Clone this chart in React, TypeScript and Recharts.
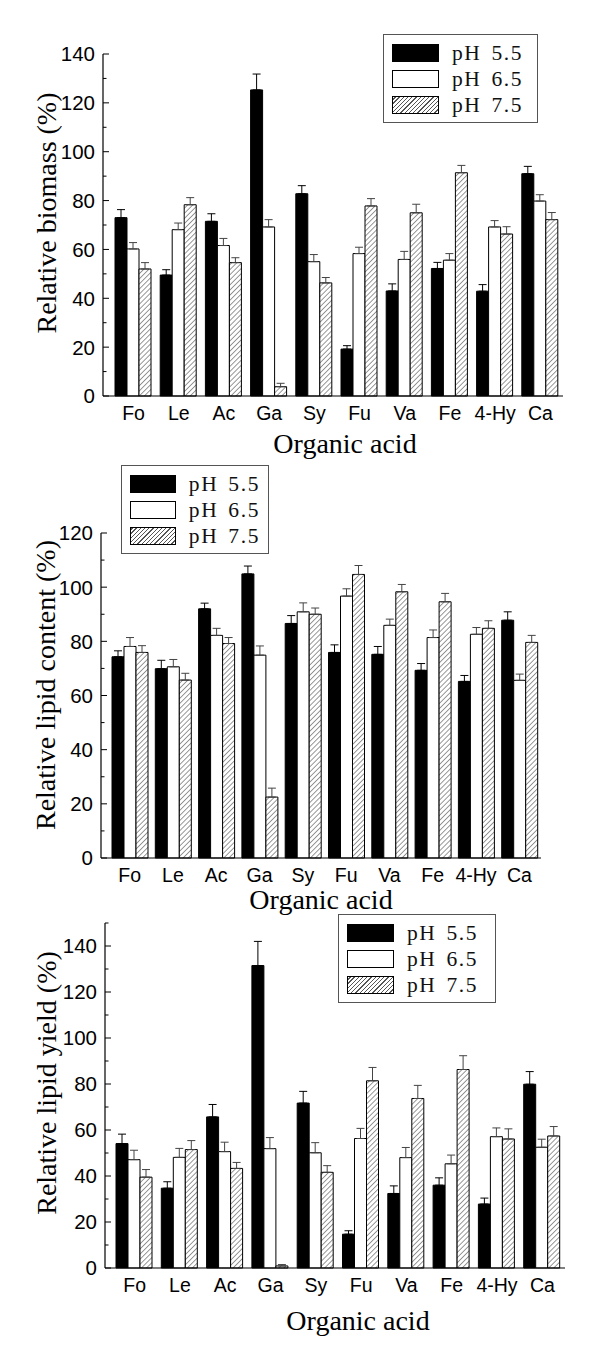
import { BarChart, Bar, XAxis, YAxis, ErrorBar, Legend, Label } from 'recharts';

const ACIDS = ['Fo', 'Le', 'Ac', 'Ga', 'Sy', 'Fu', 'Va', 'Fe', '4-Hy', 'Ca'];

// relative biomass (%)
const BIOMASS_PH55 = [73, 49.5, 71.5, 125.3, 82.8, 19.2, 43, 52.2, 42.9, 91];
const BIOMASS_PH65 = [60.2, 68.1, 61.6, 69.2, 55, 58.3, 55.9, 55.6, 69.2, 79.8];
const BIOMASS_PH75 = [52, 78.3, 54.6, 3.8, 46.3, 77.8, 75, 91.4, 66.3, 72.2];
const BIOMASS_ERR55 = [3.3, 2.2, 3.1, 6.5, 3.3, 1.4, 2.9, 2.5, 2.7, 3.0];
const BIOMASS_ERR65 = [2.6, 2.7, 2.9, 3.0, 2.9, 2.6, 3.3, 2.7, 2.6, 2.6];
const BIOMASS_ERR75 = [2.6, 2.9, 2.0, 1.4, 2.2, 3.0, 3.5, 3.0, 3.0, 2.9];

// relative lipid content (%)
const CONTENT_PH55 = [74.3, 69.9, 92, 104.9, 86.6, 75.9, 75.2, 69.3, 65.2, 87.8];
const CONTENT_PH65 = [78.1, 70.6, 82.2, 74.9, 90.9, 96.7, 85.9, 81.4, 82.6, 65.6];
const CONTENT_PH75 = [75.9, 65.7, 79.2, 22.5, 90, 104.7, 98.3, 94.6, 84.8, 79.6];
const CONTENT_ERR55 = [2.2, 3.1, 2.1, 2.9, 2.9, 2.8, 2.9, 2.5, 2.2, 3.1];
const CONTENT_ERR65 = [3.3, 2.7, 2.6, 3.4, 3.3, 2.7, 2.3, 2.8, 2.5, 2.3];
const CONTENT_ERR75 = [2.5, 2.5, 2.2, 3.3, 2.3, 3.3, 2.7, 3.1, 2.8, 2.6];

// relative lipid yield (%)
const YIELD_PH55 = [54.1, 34.7, 65.7, 131.5, 71.7, 14.7, 32.4, 36, 27.8, 79.9];
const YIELD_PH65 = [47.1, 48.1, 50.6, 51.9, 50.1, 56.3, 48, 45.3, 57.1, 52.5];
const YIELD_PH75 = [39.5, 51.5, 43.3, 0.9, 41.6, 81.4, 73.7, 86.3, 56.1, 57.4];
const YIELD_ERR55 = [4.1, 2.8, 5.4, 10.5, 5.1, 1.5, 3.3, 3.2, 2.6, 5.5];
const YIELD_ERR65 = [4.1, 3.9, 4.1, 4.8, 4.4, 4.4, 4.4, 3.8, 3.8, 3.5];
const YIELD_ERR75 = [3.3, 3.9, 2.6, 0.6, 2.9, 5.8, 5.7, 6.0, 4.4, 4.1];

const TICKS_140 = [0, 10, 20, 30, 40, 50, 60, 70, 80, 90, 100, 110, 120, 130, 140];
const TICKS_120 = [0, 10, 20, 30, 40, 50, 60, 70, 80, 90, 100, 110, 120];
const TICKS_150 = [0, 10, 20, 30, 40, 50, 60, 70, 80, 90, 100, 110, 120, 130, 140, 150];

const SERIES = [
  { key: 'ph55', name: 'pH 5.5', fill: '#000000' },
  { key: 'ph65', name: 'pH 6.5', fill: '#ffffff' },
  { key: 'ph75', name: 'pH 7.5', fill: 'url(#hatch)' },
];

const SERIF = '"Liberation Serif", "Times New Roman", serif';
const SANS = '"Liberation Sans", Arial, sans-serif';

const buildRows = (
  v55: number[], v65: number[], v75: number[],
  e55: number[], e65: number[], e75: number[],
) =>
  ACIDS.map((acid, i) => ({
    acid,
    ph55: v55[i],
    ph65: v65[i],
    ph75: v75[i],
    ph55Err: [0, e55[i]],
    ph65Err: [0, e65[i]],
    ph75Err: [0, e75[i]],
  }));

const YTick = ({ x, y, payload }: any) => {
  const major = payload.value % 20 === 0;
  return (
    <g>
      <line x1={x} x2={x + (major ? 6 : 3.5)} y1={y} y2={y} stroke="#000" strokeWidth={1} />
      {major && (
        <text x={x - 8} y={y} dy="0.36em" textAnchor="end" fontFamily={SANS} fontSize={20.5} fill="#000">
          {payload.value}
        </text>
      )}
    </g>
  );
};

const XTick = ({ x, y, payload }: any) => (
  <text x={x} y={y + 17} dy="0.36em" textAnchor="middle" fontFamily={SANS} fontSize={19.5} fill="#000">
    {payload.value}
  </text>
);

const HatchLegend = ({ width }: { width: number }) => (
  <div
    style={{
      boxSizing: 'border-box',
      width,
      border: '1px solid #555',
      background: '#fff',
      padding: '9px 8px 8px 8px',
      display: 'flex',
      flexDirection: 'column',
      gap: 8,
    }}
  >
    {SERIES.map(s => (
      <div key={s.key} style={{ display: 'flex', alignItems: 'center', height: 18 }}>
        <div
          style={{
            boxSizing: 'border-box',
            width: 47,
            height: 18,
            border: '1px solid #000',
            background:
              s.key === 'ph75'
                ? 'repeating-linear-gradient(-45deg, #fff 0px, #fff 2px, #555 2px, #555 3px)'
                : s.fill,
          }}
        />
        <span
          style={{
            marginLeft: 13,
            fontFamily: SERIF,
            fontSize: 21.5,
            letterSpacing: 1.6,
            wordSpacing: 3,
            lineHeight: '18px',
            color: '#111',
            whiteSpace: 'nowrap',
          }}
        >
          {s.name}
        </span>
      </div>
    ))}
  </div>
);

interface PanelProps {
  top: number;
  height: number;
  rows: ReturnType<typeof buildRows>;
  yMax: number;
  yTicks: number[];
  yTitle: string;
  margin: { top: number; right: number; bottom: number; left: number };
  padLeft: number;
  legend: { left: number; top: number; width: number };
  yTitleAt: { x: number; y: number };
  xTitleAt: { x: number; y: number };
}

function Panel({ top, height, rows, yMax, yTicks, yTitle, margin, padLeft, legend, yTitleAt, xTitleAt }: PanelProps) {
  return (
    <div style={{ position: 'absolute', left: 0, top, width: 600, height }}>
      <BarChart width={600} height={height} data={rows} margin={margin} barCategoryGap={4} barGap={0}>
        <XAxis
          dataKey="acid"
          height={30}
          padding={{ left: padLeft, right: 0 }}
          axisLine={{ stroke: '#000', strokeWidth: 1.2 }}
          tickLine={false}
          tickSize={0}
          tickMargin={0}
          interval={0}
          tick={<XTick />}
        >
          <Label
            content={() => (
              <text x={xTitleAt.x} y={xTitleAt.y} dy="0.35em" textAnchor="middle" fontFamily={SERIF} fontSize={28} fill="#000">
                Organic acid
              </text>
            )}
          />
        </XAxis>
        <YAxis
          width={60}
          domain={[0, yMax]}
          ticks={yTicks}
          interval={0}
          axisLine={{ stroke: '#000', strokeWidth: 1.2 }}
          tickLine={false}
          tickSize={0}
          tickMargin={0}
          tick={<YTick />}
        >
          <Label
            content={() => (
              <text
                x={yTitleAt.x}
                y={yTitleAt.y}
                dy="0.35em"
                textAnchor="middle"
                fontFamily={SERIF}
                fontSize={28}
                fill="#000"
                transform={`rotate(-90 ${yTitleAt.x} ${yTitleAt.y})`}
              >
                {yTitle}
              </text>
            )}
          />
        </YAxis>
        <Legend
          layout="vertical"
          align="center"
          verticalAlign="middle"
          wrapperStyle={{ left: legend.left, top: legend.top, width: legend.width }}
          content={() => <HatchLegend width={legend.width} />}
        />
        {SERIES.map(s => (
          <Bar key={s.key} dataKey={s.key} name={s.name} fill={s.fill} stroke="#000" strokeWidth={1} isAnimationActive={false}>
            <ErrorBar
              dataKey={`${s.key}Err`}
              direction="y"
              width={4}
              stroke={s.key === 'ph55' ? '#000' : '#444'}
              strokeWidth={1}
              isAnimationActive={false}
            />
          </Bar>
        ))}
      </BarChart>
    </div>
  );
}

export default function App() {
  const biomass = buildRows(BIOMASS_PH55, BIOMASS_PH65, BIOMASS_PH75, BIOMASS_ERR55, BIOMASS_ERR65, BIOMASS_ERR75);
  const content = buildRows(CONTENT_PH55, CONTENT_PH65, CONTENT_PH75, CONTENT_ERR55, CONTENT_ERR65, CONTENT_ERR75);
  const lipidYield = buildRows(YIELD_PH55, YIELD_PH65, YIELD_PH75, YIELD_ERR55, YIELD_ERR65, YIELD_ERR75);

  return (
    <div style={{ position: 'absolute', left: 0, top: 0, width: 600, height: 1366, background: '#fff', overflow: 'hidden' }}>
      <svg width={0} height={0} style={{ position: 'absolute' }}>
        <defs>
          <pattern id="hatch" patternUnits="userSpaceOnUse" width={3.6} height={3.6} patternTransform="rotate(45)">
            <rect width={3.6} height={3.6} fill="#fff" />
            <line x1={0} y1={0} x2={0} y2={3.6} stroke="#444" strokeWidth={1.1} />
          </pattern>
        </defs>
      </svg>
      <Panel
        top={0}
        height={460}
        rows={biomass}
        yMax={140}
        yTicks={TICKS_140}
        yTitle="Relative biomass (%)"
        margin={{ top: 54, right: 37, bottom: 34, left: 43 }}
        padLeft={8}
        legend={{ left: 383, top: 34, width: 155 }}
        yTitleAt={{ x: 46, y: 213 }}
        xTitleAt={{ x: 345, y: 443 }}
      />
      <Panel
        top={460}
        height={460}
        rows={content}
        yMax={120}
        yTicks={TICKS_120}
        yTitle="Relative lipid content (%)"
        margin={{ top: 73, right: 59, bottom: 32, left: 41 }}
        padLeft={7}
        legend={{ left: 121, top: 5, width: 148 }}
        yTitleAt={{ x: 45, y: 225 }}
        xTitleAt={{ x: 321, y: 439 }}
      />
      <Panel
        top={920}
        height={446}
        rows={lipidYield}
        yMax={150}
        yTicks={TICKS_150}
        yTitle="Relative lipid yield (%)"
        margin={{ top: 3, right: 35, bottom: 68, left: 45 }}
        padLeft={7}
        legend={{ left: 338, top: -6, width: 158 }}
        yTitleAt={{ x: 46, y: 163 }}
        xTitleAt={{ x: 358, y: 400 }}
      />
    </div>
  );
}
